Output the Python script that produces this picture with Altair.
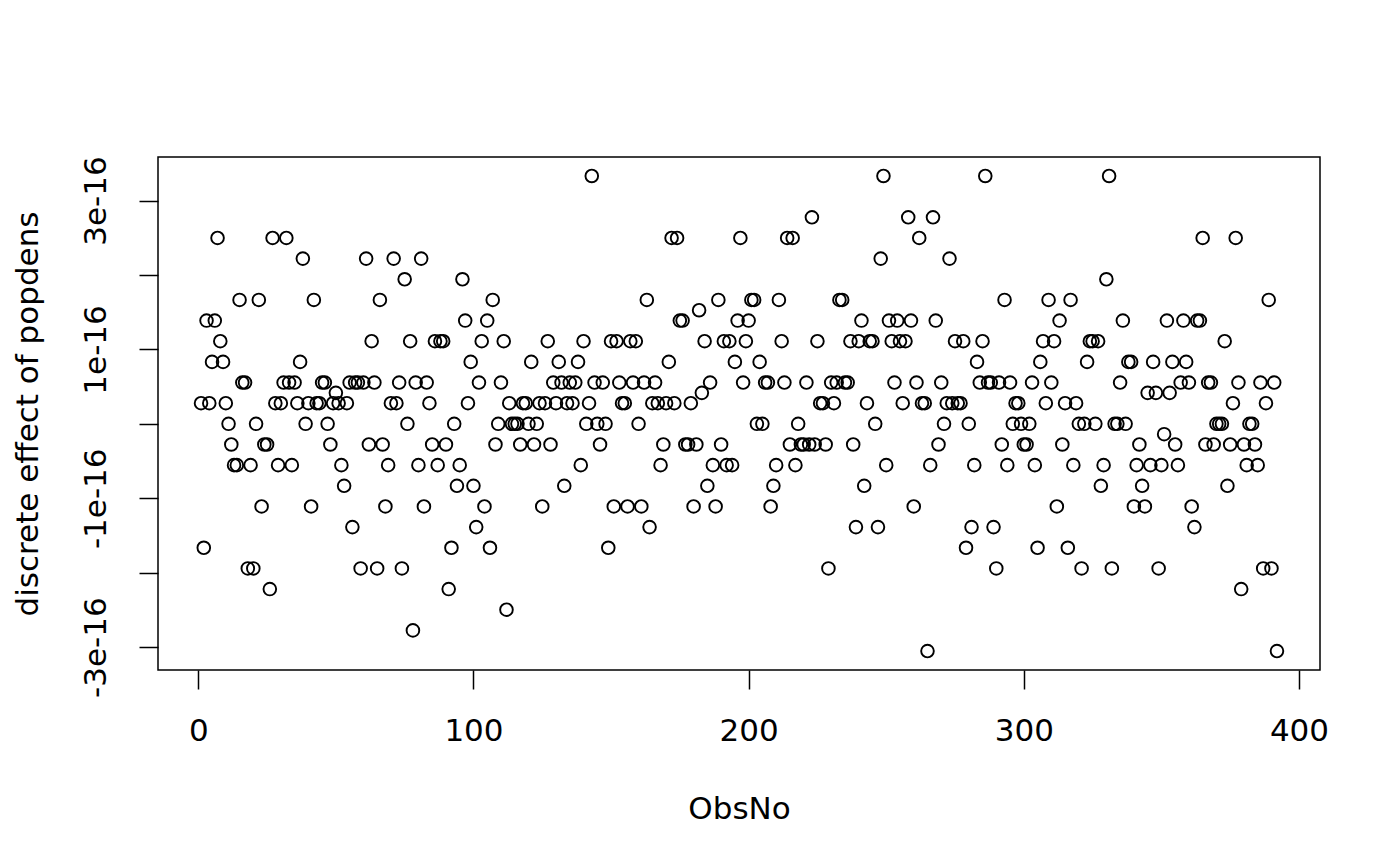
import altair as alt
import pandas as pd

UNIT = 2.7756e-17  # spacing of the discrete levels seen in the plot

obs_no = list(range(1, 393))

levels = [
    1, -6, 5, 1, 3, 5, 9, 4, 3, 1,            # 1-10
    0, -1, -2, -2, 6, 2, 2, -7, -2, -7,       # 11-20
    0, 6, -4, -1, -1, -8, 9, 1, -2, 1,        # 21-30
    2, 9, 2, -2, 2, 1, 3, 8, 0, 1,            # 31-40
    -4, 6, 1, 1, 2, 2, 0, -1, 1, 1.5,         # 41-50
    1, -2, -3, 1, 2, -5, 2, 2, -7, 2,         # 51-60
    8, -1, 4, 2, -7, 6, -1, -4, -2, 1,        # 61-70
    8, 1, 2, -7, 7, 0, 4, -10, 2, -2,         # 71-80
    8, -4, 2, 1, -1, 4, -2, 4, 4, -1,         # 81-90
    -8, -6, 0, -3, -2, 7, 5, 1, 3, -3,        # 91-100
    -5, 2, 4, -4, 5, -6, 6, -1, 0, 2,         # 101-110
    4, -9, 1, 0, 0, 0, -1, 1, 1, 0,           # 111-120
    3, -1, 0, 1, -4, 1, 4, -1, 2, 1,          # 121-130
    3, 2, -3, 1, 2, 1, 2, 3, -2, 4,           # 131-140
    0, 1, 12, 2, 0, -1, 2, 0, -6, 4,          # 141-150
    -4, 4, 2, 1, 1, -4, 4, 2, 4, 0,           # 151-160
    -4, 2, 6, -5, 1, 2, 1, -2, -1, 1,         # 161-170
    3, 9, 1, 9, 5, 5, -1, -1, 1, -4,          # 171-180
    -1, 5.5, 1.5, 4, -3, 2, -2, -4, 6, -1,    # 181-190
    4, -2, 4, -2, 3, 5, 9, 2, 4, 5,           # 191-200
    6, 6, 0, 3, 0, 2, 2, -4, -3, -2,          # 201-210
    6, 4, 2, 9, -1, 9, -2, 0, -1, -1,         # 211-220
    2, -1, 10, -1, 4, 1, 1, -1, -7, 2,        # 221-230
    1, 2, 6, 6, 2, 2, 4, -1, -5, 4,           # 231-240
    5, -3, 1, 4, 4, 0, -5, 8, 12, -2,         # 241-250
    5, 4, 2, 5, 4, 1, 4, 10, 5, -4,           # 251-260
    2, 9, 1, 1, -11, -2, 10, 5, -1, 2,        # 261-270
    0, 1, 8, 1, 4, 1, 1, 4, -6, 0,            # 271-280
    -5, -2, 3, 2, 4, 12, 2, 2, -5, -7,        # 281-290
    2, -1, 6, -2, 2, 0, 1, 1, 0, -1,          # 291-300
    -1, 0, 2, -2, -6, 3, 4, 1, 6, 2,          # 301-310
    4, -4, 5, -1, 1, -6, 6, -2, 1, 0,         # 311-320
    -7, 0, 3, 4, 4, 0, 4, -3, -2, 7,          # 321-330
    12, -7, 0, 0, 2, 5, 0, 3, 3, -4,          # 331-340
    -2, -1, -3, -4, 1.5, -2, 3, 1.5, -7, -2,  # 341-350
    -0.5, 5, 1.5, 3, -1, -2, 2, 5, 3, 2,      # 351-360
    -4, -5, 5, 5, 9, -1, 2, 2, -1, 0,         # 361-370
    0, 0, 4, -3, -1, 1, 9, 2, -8, -1,         # 371-380
    -2, 0, 0, -1, -2, 2, -7, 1, 6, -7,        # 381-390
    2, -11,                                   # 391-392
]

x_ticks = [0, 100, 200, 300, 400]
y_ticks = [-3e-16, -2e-16, -1e-16, 0.0, 1e-16, 2e-16, 3e-16]

df = pd.DataFrame({"ObsNo": obs_no, "effect": [k * UNIT for k in levels]})

FONT = "DejaVu Sans"
FS = 31

chart = (
    alt.Chart(df)
    .mark_point(filled=False, color="black", strokeWidth=1.9, size=160, opacity=1)
    .encode(
        x=alt.X(
            "ObsNo:Q",
            scale=alt.Scale(domain=[-14.64, 407.64], nice=False, zero=False),
            axis=alt.Axis(
                values=x_ticks, title="ObsNo", grid=False, domain=False,
                tickSize=19, tickWidth=1.5, tickColor="black",
                labelFont=FONT, labelFontSize=FS, labelColor="black",
                labelBaseline="alphabetic", labelPadding=51,
                titleFont=FONT, titleFontSize=FS, titleFontWeight="normal",
                titleColor="black", titleBaseline="alphabetic", titleY=148,
                format="d",
            ),
        ),
        y=alt.Y(
            "effect:Q",
            scale=alt.Scale(domain=[-3.308e-16, 3.586e-16], nice=False, zero=False),
            axis=alt.Axis(
                values=y_ticks, title="discrete effect of popdens", grid=False,
                domain=False, tickSize=19, tickWidth=1.5, tickColor="black",
                labelFont=FONT, labelFontSize=FS, labelColor="black",
                labelAngle=270, labelAlign="center", labelBaseline="alphabetic",
                labelPadding=34,
                labelExpr="abs(round(datum.value*1e16)) % 2 == 1 ? round(datum.value*1e16) + 'e-16' : ''",
                titleFont=FONT, titleFontSize=FS, titleFontWeight="normal",
                titleColor="black", titleAngle=270, titleAlign="center",
                titleBaseline="alphabetic", titleX=-121, titleY=256.5,
            ),
        ),
    )
    .properties(
        width=1162, height=513,
        autosize=alt.AutoSizeParams(type="none"),
        padding={"left": 150, "top": 149, "right": 70, "bottom": 180},
    )
    .configure(background="white")
    .configure_view(stroke="black", strokeWidth=1.5)
)

chart.save("out.html", embed_options={"renderer": "svg", "actions": False})
